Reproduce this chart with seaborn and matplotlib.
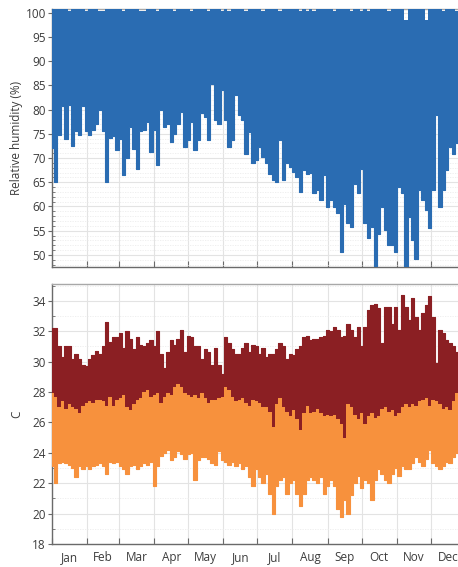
import numpy as np
import matplotlib
matplotlib.use("Agg")
import matplotlib.pyplot as plt
from matplotlib.ticker import MultipleLocator, FixedLocator, NullFormatter
import seaborn as sns

# ---- data: values every third day of the year (day 0 = 1 Jan) ----
day = np.arange(0, 366, 3)

rh_min = [72, 65, 74.7, 80.7, 74, 81, 72.5, 75.5, 74.7, 80.8, 75.6, 74.8, 75.8, 77, 80, 75.5,
          65, 74.2, 74.6, 71.6, 74, 66.5, 70, 76.4, 71.8, 67.7, 75.5, 75.7, 77.5, 71.3, 75.8, 68.6,
          79.8, 76.4, 77.1, 73.3, 75, 77.1, 79.5, 72.3, 73.7, 77.4, 71.6, 73.7, 79.2, 78.5, 73.7,
          85.3, 77.8, 77.1, 84.0, 77.8, 72.3, 73.7, 82.9, 78.8, 77.8, 70.9, 75.4, 68.9, 69.5, 72.3,
          70.2, 68.9, 66.8, 65.4, 65.1, 73.7, 65.4, 68.9, 68.2, 67.1, 66.1, 63.0, 67.5, 66.8,
          67, 62.7, 63.4, 61.3, 66.5, 59.9, 61.3, 59.9, 58.6, 50.7, 60.6, 56.5, 55.8, 64.7, 62.7,
          67.8, 56.5, 53.4, 55.8, 47.6, 54.4, 59.9, 55.1, 52.0, 52.0, 50.7, 64.0, 62.7, 47.6, 57.9,
          53.1, 49.2, 63.4, 61.3, 59.2, 55.5, 63.4, 78.8, 59.9, 63.4, 67.5, 72.3, 70.9, 73.0, 72, 73]

rh_max = [101, 101, 101, 101, 101, 100.3, 101, 101, 101, 101, 100.3, 101, 101, 101, 100.3, 100.3,
          101, 101, 101, 101, 101, 100.3, 101, 101, 101, 101, 100.3, 100.3, 101, 101, 101, 100.3,
          101, 101, 101, 101, 100.3, 101, 101, 101, 101, 100.3, 101, 101, 101, 101, 100.3,
          101, 101, 101, 100.3, 101, 100.3, 101, 101, 101, 101, 100.3, 101, 101, 101, 101,
          100.3, 101, 101, 101, 101, 100.3, 101, 101, 101, 101, 101, 100.3, 101, 100.3,
          101, 100.3, 101, 101, 101, 101, 101, 100.3, 101, 101, 101, 101, 100.3, 101, 101,
          100.3, 101, 100.3, 101, 101, 101, 101, 101, 100.3, 101, 101, 101, 101, 98.5, 101,
          101, 101, 101, 101, 98.5, 101, 101, 101, 101, 100.3, 101, 101, 101, 100.3, 101, 101]

temp_max = [32.2, 32.2, 31.0, 30.3, 31.0, 31.0, 30.2, 30.5, 30.2, 29.8, 29.7, 30.2, 30.4, 30.7,
            30.5, 31.0, 32.6, 31.3, 31.6, 31.6, 31.9, 30.9, 32.0, 31.5, 30.8, 31.6, 31.1, 31.0,
            31.2, 31.4, 31.0, 32.0,
            30.5, 29.6, 30.6, 31.4, 31.1, 31.5, 32.1, 30.6, 31.7, 31.6, 31.0, 31.0, 30.2, 30.8,
            30.6, 29.8, 30.9, 29.8, 29.2, 31.6, 31.2, 30.8, 30.5, 30.5, 30.9, 31.2, 30.6, 31.1,
            31.0, 30.5, 30.9, 30.3, 30.5, 30.5, 30.8, 31.2, 31.0, 30.2, 30.5, 30.4, 30.8, 31.0,
            31.6, 31.7,
            31.4, 31.5, 31.5, 31.6, 31.7, 32.1, 32.0, 32.3, 32.1, 31.6, 31.7, 32.5, 32.1, 31.6,
            32.3, 31.0, 32.3, 33.4, 33.7, 33.8, 33.5, 31.2, 33.6, 33.6, 32.5, 33.6, 32.1, 34.4,
            33.6, 32.7, 34.2, 32.9, 32.1, 33.2, 33.7, 34.3, 32.9, 29.9, 32.1, 31.9, 31.4, 31.2,
            31.0, 30.6, 30.5, 30.4]

wet_max = [27.9, 27.7, 27.0, 27.4, 26.9, 27.2, 27.0, 26.9, 26.6, 27.1, 27.3, 27.4, 27.3, 27.5,
           27.5, 27.4, 27.1, 27.7, 27.1, 27.5, 27.6, 27.8, 27.0, 26.8, 27.2, 27.5, 27.6, 28.0,
           28.1, 27.7, 27.8, 27.9,
           27.3, 27.7, 27.9, 27.8, 28.3, 28.5, 28.3, 27.9, 27.8, 27.7, 27.8, 27.6, 27.9, 27.6,
           27.3, 27.5, 27.5, 27.6, 27.7, 28.3, 28.1, 27.7, 27.4, 27.5, 27.6, 27.3, 27.1, 27.5,
           27.4, 27.3, 27.0, 27.0, 26.7, 25.7, 27.2, 27.6, 27.0, 26.7, 26.4, 26.8, 26.2, 25.5,
           26.6, 27.1,
           26.6, 26.7, 26.9, 26.6, 26.4, 26.5, 26.4, 26.5, 26.2, 25.9, 25.0, 27.2, 27.0, 26.5,
           26.2, 26.6, 25.9, 26.4, 26.6, 26.3, 26.4, 26.9, 27.0, 26.7, 26.8, 26.4, 26.6, 27.0,
           27.2, 27.0, 27.2, 27.1, 27.4, 27.5, 27.6, 27.1, 27.5, 27.4, 27.2, 26.9, 27.0, 26.8,
           27.4, 27.9, 27.8, 27.6]

wet_min = [23.1, 22.0, 23.3, 23.4, 23.3, 23.2, 23.0, 22.4, 23.1, 22.9, 23.1, 22.9, 23.1, 23.2,
           23.3, 23.1, 22.6, 23.4, 23.3, 23.4, 23.1, 22.9, 22.6, 23.1, 23.2, 22.9, 23.1, 23.3,
           23.2, 23.4, 21.8, 23.1,
           23.8, 24.0, 24.2, 23.5, 23.7, 24.1, 23.9, 23.6, 23.9, 24.0, 22.2, 23.5, 23.7, 23.7,
           23.6, 23.3, 23.2, 24.1, 23.5, 23.4, 23.2, 23.4, 23.1, 23.3, 22.9, 23.1, 22.4, 21.8,
           22.9, 22.4, 22.0, 22.6, 21.3, 20.0, 21.8, 22.2, 22.4, 21.3, 22.0, 22.2, 21.3, 20.5,
           21.3, 22.2,
           22.4, 22.2, 22.0, 22.4, 21.3, 21.8, 22.2, 21.8, 20.3, 19.8, 20.9, 20.0, 21.2, 22.0,
           22.5, 21.7, 22.2, 22.0, 20.9, 22.2, 22.9, 22.6, 22.2, 22.0, 22.6, 23.0, 22.5, 23.1,
           22.9, 22.9, 23.3, 23.7, 23.4, 23.1, 23.6, 24.2, 23.3, 23.1, 22.9, 23.1, 23.4, 23.3,
           23.7, 24.0, 23.8, 23.9]

month_names = ["Jan", "Feb", "Mar", "Apr", "May", "Jun",
               "Jul", "Aug", "Sep", "Oct", "Nov", "Dec"]
month_len = [31, 28, 31, 30, 31, 30, 31, 31, 30, 31, 30, 31]

# ---- style ----
sns.set_theme(style="whitegrid")
plt.rcParams["font.family"] = ["Open Sans", "DejaVu Sans"]

BLUE = "#2a6cb2"
DARK_RED = "#8b1f23"
ORANGE = "#f7913d"
SPINE = "#6a6a6a"
TEXT = "#3c3c3c"

month_start = np.concatenate([[0], np.cumsum(month_len)[:-1]])
month_mid = month_start + np.array(month_len) / 2.0

fig = plt.figure(figsize=(4.58, 5.67), dpi=100)
W, H = 458.0, 567.0
ax1 = fig.add_axes([52.2 / W, (H - 267.3) / H, 413.7 / W, (267.3 - 8.7) / H])
ax2 = fig.add_axes([52.2 / W, (H - 544.0) / H, 413.7 / W, (544.0 - 284.3) / H])

# relative humidity band
ax1.fill_between(day, rh_min, rh_max, step="mid", color=BLUE, lw=0, zorder=3)
sns.lineplot(x=day, y=rh_min, drawstyle="steps-mid", color=BLUE, lw=0.8, ax=ax1, zorder=3)

# temperature bands
ax2.fill_between(day, wet_min, temp_max, step="mid", color=DARK_RED, lw=0, zorder=3)
sns.lineplot(x=day, y=temp_max, drawstyle="steps-mid", color=DARK_RED, lw=0.8, ax=ax2, zorder=3)
ax2.fill_between(day, wet_min, wet_max, step="mid", color=ORANGE, lw=0, zorder=4)
sns.lineplot(x=day, y=wet_min, drawstyle="steps-mid", color=ORANGE, lw=0.8, ax=ax2, zorder=4)

ax1.set_ylim(47.45, 100.8)
ax1.yaxis.set_major_locator(FixedLocator(list(range(50, 101, 5))))
ax1.yaxis.set_minor_locator(MultipleLocator(1))
ax2.set_ylim(18, 35.08)
ax2.yaxis.set_major_locator(FixedLocator(list(range(18, 35, 2))))
ax2.yaxis.set_minor_locator(MultipleLocator(1))

for ax in (ax1, ax2):
    ax.set_xlim(0, 365)
    ax.set_facecolor("white")
    ax.xaxis.set_major_locator(FixedLocator(month_start))
    ax.xaxis.set_major_formatter(NullFormatter())
    ax.xaxis.set_minor_locator(FixedLocator(month_mid))
    ax.grid(True, which="major", color="#e3e3e3", lw=0.8, ls="-")
    ax.grid(True, which="minor", axis="y", color="#ececec", lw=0.6, ls=(0, (1.5, 1.5)))
    ax.grid(False, which="minor", axis="x")
    ax.set_axisbelow(True)
    ax.tick_params(axis="y", which="major", direction="out", length=3, width=0.8,
                   color=SPINE, labelsize=8.5, labelcolor=TEXT, pad=1.5, left=True)
    ax.tick_params(axis="y", which="minor", direction="in", length=2.5, width=0.6,
                   color=SPINE, left=True)
    ax.tick_params(axis="x", which="major", direction="in", length=4, width=0.8,
                   color=SPINE, bottom=True)
    ax.tick_params(axis="x", which="minor", length=0, labelsize=8.5, labelcolor=TEXT, pad=5)
    for side in ("left", "bottom"):
        ax.spines[side].set_color(SPINE)
        ax.spines[side].set_linewidth(1.0)
    ax.spines["top"].set_color("#a8a8a8")
    ax.spines["top"].set_linewidth(1.0)
    ax.spines["right"].set_color("#a8a8a8")
    ax.spines["right"].set_linewidth(1.0)
    ax.set_xlabel("")

ax1.xaxis.set_minor_formatter(NullFormatter())
ax2.set_xticks(month_mid, month_names, minor=True)

ax1.set_ylabel("Relative humidity (%)", fontsize=8.5, color=TEXT)
ax2.set_ylabel("C", fontsize=8.5, color=TEXT)
ax1.yaxis.set_label_coords((23 - 52.2) / 413.7, 0.5)
ax2.yaxis.set_label_coords((23 - 52.2) / 413.7, 0.5)

fig.savefig("out.png", dpi=100, facecolor="white")
